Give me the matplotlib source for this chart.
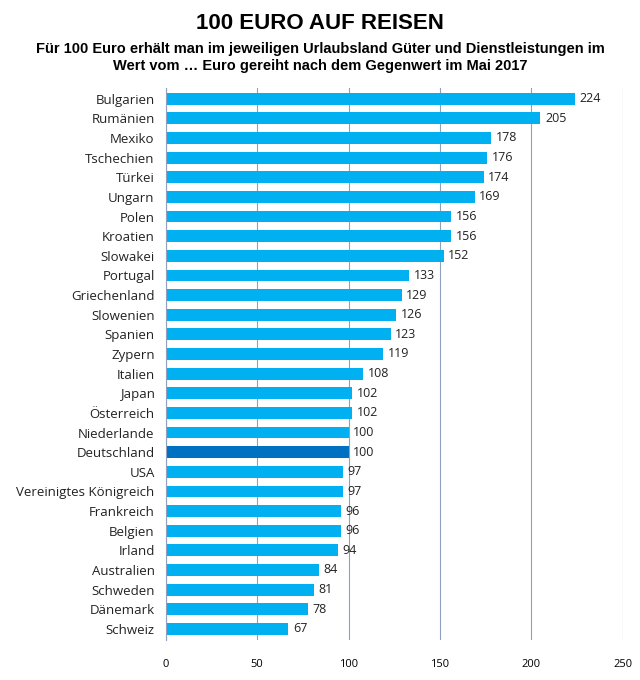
import matplotlib.pyplot as plt

countries = ['Bulgarien', 'Rumänien', 'Mexiko', 'Tschechien', 'Türkei', 'Ungarn', 'Polen',
             'Kroatien', 'Slowakei', 'Portugal', 'Griechenland', 'Slowenien', 'Spanien',
             'Zypern', 'Italien', 'Japan', 'Österreich', 'Niederlande', 'Deutschland', 'USA',
             'Vereinigtes Königreich', 'Frankreich', 'Belgien', 'Irland', 'Australien',
             'Schweden', 'Dänemark', 'Schweiz']
values = [224, 205, 178, 176, 174, 169, 156, 156, 152, 133, 129, 126, 123, 119, 108, 102,
          102, 100, 100, 97, 97, 96, 96, 94, 84, 81, 78, 67]
x_ticks = [0, 50, 100, 150, 200, 250]

colors = ['#0070C0' if c == 'Deutschland' else '#00B0F0' for c in countries]

fig = plt.figure(figsize=(6.4, 6.8), dpi=100)
ax = fig.add_axes([0.259, 0.059, 0.714, 0.812])

pos = list(range(len(countries)))
ax.barh(pos, values, height=0.6, color=colors, zorder=2)
for p, v in zip(pos, values):
    ax.text(v + 2.5, p, str(v), va='center', ha='left', fontsize=9, family='Open Sans', color='#222222')

ax.set_ylim(len(countries) - 0.44, -0.56)
ax.set_xlim(0, 250)
ax.set_yticks(pos)
ax.set_yticklabels(countries, fontsize=9.5, family='Open Sans', color='#222222')
ax.set_xticks(x_ticks)
ax.set_xticklabels([str(t) for t in x_ticks], fontsize=8, family='Open Sans')
ax.tick_params(axis='both', length=0)
ax.tick_params(axis='x', pad=14)
ax.tick_params(axis='y', pad=8)
ax.grid(axis='x', color='#8EA2BF', linewidth=0.8, zorder=0)
for s in ['top', 'right', 'bottom']:
    ax.spines[s].set_visible(False)
ax.spines['left'].set_color('#8EA2BF')
ax.spines['left'].set_linewidth(0.8)

fig.text(0.5, 0.965, '100 EURO AUF REISEN', ha='center', va='center', fontsize=16,
         fontweight='bold', family='Liberation Sans')
fig.text(0.5, 0.915, 'Für 100 Euro erhält man im jeweiligen Urlaubsland Güter und Dienstleistungen im\n'
         'Wert vom … Euro gereiht nach dem Gegenwert im Mai 2017', ha='center', va='center',
         fontsize=10.5, fontweight='bold', family='Liberation Sans', linespacing=1.3)

fig.savefig('out.png', dpi=100)
